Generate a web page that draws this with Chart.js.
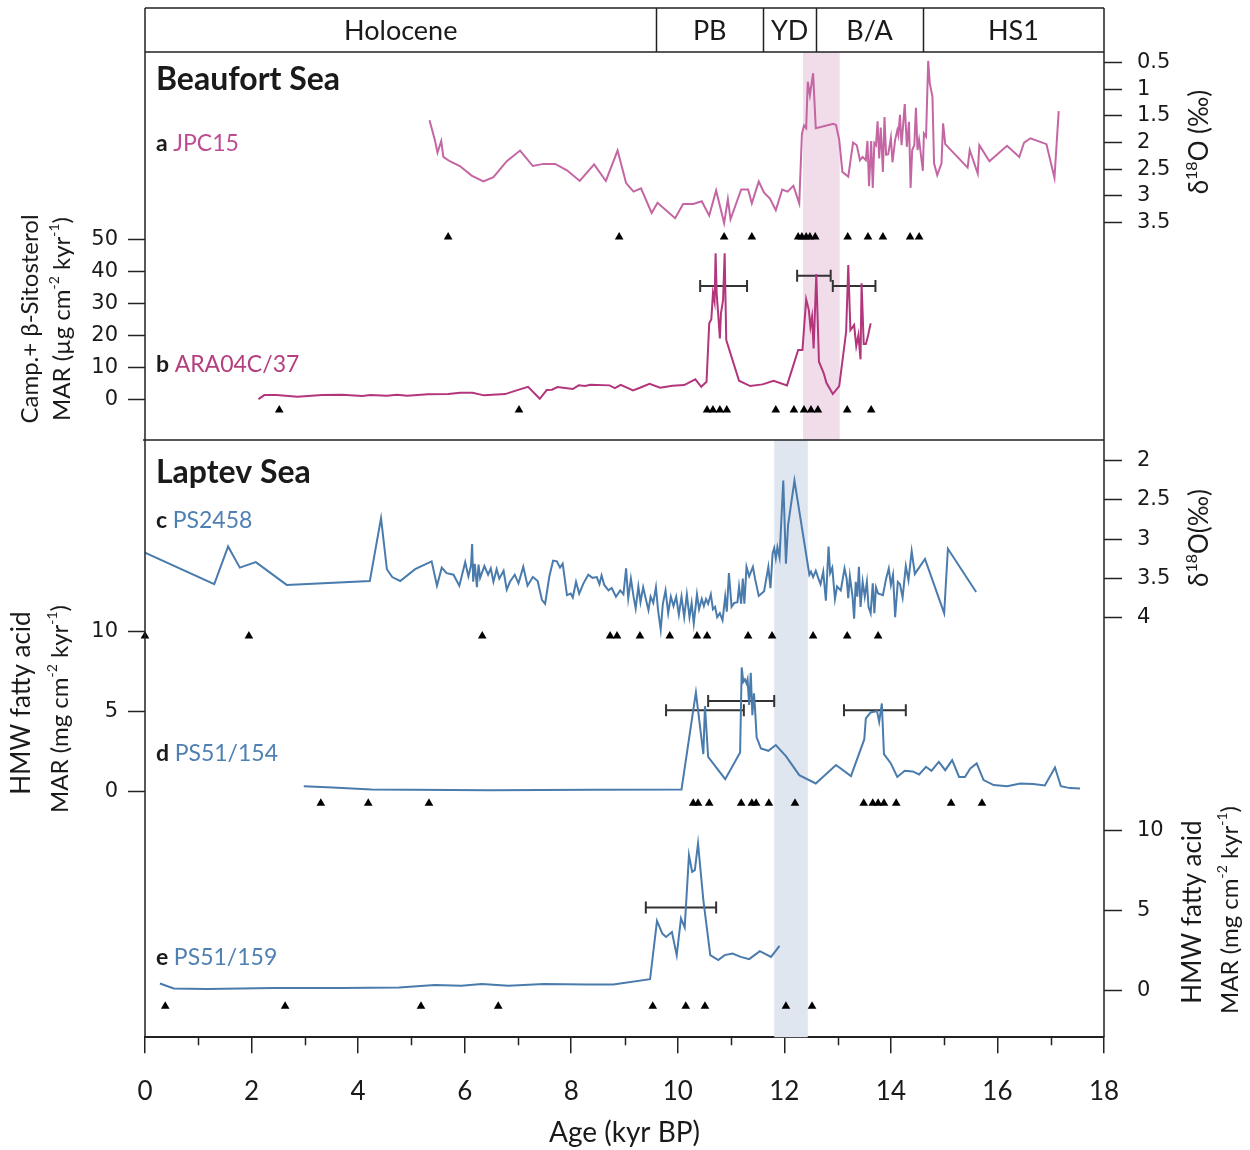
<!DOCTYPE html>
<html>
<head>
<meta charset="utf-8">
<script src="https://cdn.jsdelivr.net/npm/chart.js@4.4.1/dist/chart.umd.min.js"></script>
<style>
  html, body { margin: 0; padding: 0; background: #fff; }
  #wrap { width: 1250px; height: 1150px; }
</style>
</head>
<body>
<div id="wrap"><canvas id="chart" width="1250" height="1150"></canvas></div>
<script>
// ---- periods (header band) ----
const periodNames = ['Holocene', 'PB', 'YD', 'B/A', 'HS1'];
const periodBounds = [0, 9.6, 11.6, 12.6, 14.6, 18];
const beaufortBand = [12.35, 13.04];
const laptevBand = [11.81, 12.44];

// ---- a: JPC15 d18O ----
const jpcAge = [5.34,5.44,5.49,5.56,5.60,5.72,5.91,6.13,6.35,6.54,6.79,7.04,7.28,7.48,7.70,7.92,8.16,8.43,8.65,8.87,9.03,9.17,9.31,9.51,9.62,9.95,10.10,10.29,10.45,10.59,10.72,10.87,10.94,10.99,11.19,11.32,11.39,11.52,11.62,11.73,11.84,11.96,12.06,12.17,12.28,12.33,12.37,12.41,12.44,12.48,12.54,12.59,12.92,12.97,13.03,13.09,13.20,13.29,13.36,13.42,13.47,13.53,13.56,13.59,13.63,13.66,13.69,13.72,13.75,13.78,13.81,13.85,13.88,13.91,13.95,14.00,14.03,14.08,14.12,14.14,14.17,14.20,14.23,14.26,14.30,14.34,14.37,14.40,14.44,14.47,14.50,14.53,14.60,14.62,14.66,14.70,14.73,14.78,14.81,14.87,14.95,14.98,15.02,15.44,15.48,15.63,15.66,15.85,16.18,16.41,16.50,16.62,16.92,17.07,17.15];
const jpcD18O = [1.59,1.96,2.20,1.98,2.28,2.36,2.45,2.63,2.74,2.66,2.36,2.16,2.45,2.41,2.41,2.53,2.73,2.42,2.73,2.16,2.77,2.93,2.87,3.33,3.14,3.43,3.16,3.16,3.11,3.38,2.91,3.52,3.07,3.45,2.89,2.89,3.15,2.74,2.95,3.06,3.28,2.89,2.93,2.82,3.15,1.85,1.69,1.74,0.87,1.12,0.71,1.74,1.66,1.68,1.96,2.56,2.65,2.01,2.06,2.34,2.28,2.34,1.98,2.83,1.98,2.86,2.02,2.06,1.61,2.31,1.73,2.56,1.53,2.24,2.23,1.92,2.38,1.96,1.78,1.87,1.49,2.06,1.68,1.29,2.09,1.62,2.86,2.15,2.06,1.36,2.15,1.96,2.54,1.84,1.90,0.48,0.90,1.15,2.40,2.62,2.40,1.65,2.04,2.48,2.15,2.59,2.06,2.36,2.07,2.28,2.01,1.93,2.04,2.67,1.42];
const jpcDates = [5.69,8.90,10.87,11.39,12.26,12.33,12.41,12.48,12.58,13.19,13.57,13.85,14.36,14.53];
const jpcTicks = [0.5,1,1.5,2,2.5,3,3.5];

// ---- b: ARA04C/37 MAR ----
const araAge = [2.13,2.24,2.47,2.86,3.32,3.70,4.08,4.23,4.54,4.73,4.92,5.31,5.69,5.92,6.15,6.36,6.76,6.99,7.19,7.41,7.54,7.64,7.74,8.03,8.14,8.26,8.36,8.72,8.82,8.93,9.16,9.29,9.47,9.67,9.90,10.12,10.33,10.44,10.54,10.59,10.63,10.66,10.69,10.71,10.73,10.76,10.79,10.81,10.85,10.88,10.91,11.15,11.36,11.59,11.80,12.05,12.26,12.34,12.41,12.46,12.49,12.52,12.55,12.60,12.65,12.74,12.79,12.91,13.03,13.16,13.20,13.24,13.31,13.35,13.39,13.43,13.45,13.49,13.53,13.57,13.62];
const araMar = [0,1.25,1.25,0.72,1.25,1.34,0.94,1.25,1.03,1.34,1.03,1.47,1.56,1.97,1.97,1.16,1.56,2.81,3.84,0.09,2.81,2.91,3.75,3.13,4.28,4.06,4.47,4.28,3.44,4.47,2.72,3.53,4.78,3.53,4.16,4.38,6.16,3.84,5.41,23.66,24.91,33.03,30.41,45.53,33.03,26.25,18.97,26.78,30.94,45.53,18.44,5.72,4.06,4.59,5.72,4.28,15.31,15.31,31.16,27.81,22.59,25.72,15.84,39.06,11.66,8.03,5.09,1.56,4.06,21.03,41.88,21.56,23.13,16.56,20.0,12.41,36.16,17.19,17.19,19.69,23.66];
const araDates = [2.52,7.02,10.55,10.66,10.79,10.92,11.84,12.18,12.37,12.50,12.63,13.18,13.63];
const araBarLo = [10.42, 12.24, 12.91];
const araBarHi = [11.30, 12.87, 13.71];
const araBarLevel = [35.3, 38.5, 35.3];
const araTicks = [0,10,20,30,40,50];

// ---- c: PS2458 d18O ----
const ps2458Age = [0.00,1.30,1.56,1.78,2.08,2.66,4.22,4.43,4.54,4.64,4.79,5.07,5.38,5.48,5.57,5.66,5.79,5.90,6.01,6.07,6.12,6.14,6.16,6.19,6.23,6.26,6.29,6.37,6.44,6.49,6.54,6.60,6.65,6.73,6.79,6.85,6.94,7.01,7.10,7.18,7.28,7.37,7.45,7.51,7.59,7.66,7.73,7.79,7.84,7.92,7.99,8.03,8.09,8.15,8.23,8.32,8.40,8.48,8.53,8.57,8.62,8.70,8.76,8.84,8.92,8.98,9.03,9.07,9.12,9.17,9.21,9.26,9.30,9.35,9.40,9.45,9.49,9.54,9.59,9.63,9.68,9.72,9.77,9.82,9.87,9.92,9.97,10.02,10.07,10.12,10.17,10.22,10.26,10.30,10.36,10.40,10.45,10.49,10.53,10.57,10.62,10.66,10.70,10.74,10.79,10.84,10.89,10.92,10.96,11.01,11.06,11.12,11.15,11.19,11.22,11.25,11.29,11.34,11.41,11.45,11.52,11.62,11.70,11.74,11.78,11.81,11.84,11.87,11.91,11.98,12.03,12.07,12.19,12.47,12.50,12.54,12.59,12.64,12.68,12.73,12.78,12.83,12.86,12.90,12.95,12.99,13.06,13.13,13.17,13.20,13.23,13.28,13.31,13.34,13.37,13.40,13.43,13.47,13.51,13.55,13.58,13.62,13.66,13.69,13.72,13.76,13.85,13.91,13.96,14.00,14.04,14.08,14.13,14.17,14.22,14.28,14.33,14.39,14.45,14.64,15.00,15.07,15.60];
const ps2458D18O = [3.18,3.58,3.10,3.37,3.30,3.59,3.54,2.74,3.39,3.49,3.54,3.39,3.29,3.60,3.37,3.44,3.46,3.60,3.30,3.48,3.34,3.07,3.55,3.32,3.62,3.33,3.50,3.35,3.46,3.38,3.55,3.39,3.51,3.41,3.65,3.55,3.46,3.57,3.36,3.60,3.49,3.54,3.78,3.83,3.48,3.28,3.29,3.37,3.32,3.72,3.70,3.75,3.55,3.70,3.57,3.46,3.50,3.49,3.58,3.47,3.59,3.66,3.63,3.74,3.66,3.71,3.38,3.76,3.51,3.74,3.89,3.61,3.81,3.62,3.77,3.91,3.74,3.82,3.62,3.91,4.16,3.83,3.66,3.95,3.74,3.86,3.74,3.97,3.74,4.00,3.71,4.00,3.82,4.08,3.71,3.90,3.77,3.86,3.77,3.83,3.71,3.90,3.87,4.00,3.95,4.04,3.74,3.93,3.44,3.87,3.82,3.81,3.61,3.83,3.51,3.83,3.36,3.48,3.36,3.51,3.73,3.67,3.36,3.63,3.19,3.12,3.25,3.11,3.24,2.26,3.32,2.83,2.26,3.46,3.42,3.49,3.41,3.51,3.58,3.42,3.79,3.10,3.44,3.37,3.77,3.61,3.66,3.38,3.51,3.76,3.48,3.74,4.02,3.55,3.74,3.36,3.87,3.55,3.74,3.55,3.87,3.95,3.57,3.95,3.62,3.70,3.72,3.51,3.38,3.59,3.46,4.00,3.55,3.58,3.75,3.35,3.53,3.16,3.45,3.26,3.95,3.13,3.68];
const ps2458Dates = [0,1.95,6.33,8.73,8.86,9.29,9.85,10.36,10.55,11.32,11.77,12.54,13.18,13.76];
const ps2458Ticks = [2,2.5,3,3.5,4];

// ---- d: PS51/154 MAR ----
const ps154Age = [2.98,3.52,4.25,6.46,8.42,10.07,10.34,10.48,10.51,10.57,10.89,11.17,11.20,11.23,11.26,11.29,11.31,11.34,11.37,11.40,11.43,11.45,11.48,11.56,11.70,11.84,12.03,12.28,12.59,12.97,13.25,13.50,13.53,13.62,13.74,13.78,13.83,13.87,14.00,14.12,14.26,14.41,14.53,14.66,14.76,14.90,15.02,15.15,15.28,15.39,15.49,15.61,15.74,15.93,16.18,16.43,16.67,16.89,17.08,17.19,17.36,17.55];
const ps154Mar = [0.31,0.23,0.11,0.06,0.08,0.11,6.17,2.31,5.31,2.14,0.75,2.42,7.73,6.83,6.98,6.73,6.98,5.38,7.39,4.75,6.11,5.17,3.36,2.67,2.52,2.88,2.19,1.00,0.48,1.63,0.94,3.23,4.54,4.92,5.00,4.33,5.48,2.31,1.73,0.89,1.27,1.23,1.04,1.52,1.27,1.83,1.31,1.94,0.89,0.89,1.42,1.73,0.69,0.38,0.31,0.48,0.44,0.36,1.48,0.31,0.19,0.17];
const ps154Dates = [3.30,4.19,5.33,10.29,10.38,10.59,11.19,11.39,11.47,11.71,12.20,13.49,13.66,13.76,13.87,14.10,15.13,15.71];
const ps154BarLo = [9.78, 10.57, 13.12];
const ps154BarHi = [11.24, 11.81, 14.28];
const ps154BarLevel = [5.06, 5.64, 5.06];
const ps154Ticks = [0,5,10];

// ---- e: PS51/159 MAR ----
const ps159Age = [0.28,0.54,1.16,2.42,3.68,4.77,5.44,5.94,6.32,6.82,7.49,8.29,8.79,9.48,9.61,9.71,9.78,9.89,9.98,10.06,10.13,10.21,10.27,10.32,10.38,10.48,10.61,10.76,10.88,11.03,11.18,11.34,11.54,11.75,11.91];
const ps159Mar = [0.42,0.11,0.08,0.13,0.13,0.17,0.33,0.27,0.39,0.27,0.39,0.36,0.36,0.69,4.33,3.54,3.33,3.63,2.19,4.48,3.92,8.44,7.39,7.50,9.17,5.63,2.19,1.88,2.19,2.29,2.08,1.94,2.44,2.08,2.77];
const ps159Dates = [0.38,2.63,5.18,6.63,9.53,10.15,10.51,12.03,12.52];
const ps159BarLo = [9.40];
const ps159BarHi = [10.72];
const ps159BarLevel = [5.17];
const ps159Ticks = [0,5,10];

// ---- layout / style ----
const FONT = 'Lato, "Open Sans", sans-serif';
const TICK_FONT = '"DejaVu Sans", Verdana, sans-serif';
const AREA = { left: 145, right: 1104, top: 52, bottom: 1037 };
const HEADER_TOP = 8;
const DIVIDER_Y = 440;
const PINK = '#c466a3', PINK_DARK = '#b3357c', PINK_TEXT = '#bd4d93', PINK_TEXT2 = '#b5407f';
const BLUE = '#4a7bad', BLUE_TEXT = '#4f80b3';
const INK = '#1a1a1a';

// min/max for a scale so that value v0 sits at pixel p0 and v1 at pixel p1
function fitRange(v0, p0, v1, p1) {
  const s = (p1 - p0) / (v1 - v0);
  const vTop = v0 + (AREA.top - p0) / s;
  const vBot = v0 + (AREA.bottom - p0) / s;
  return s < 0 ? { min: vBot, max: vTop, reverse: false } : { min: vTop, max: vBot, reverse: true };
}

const yScales = {
  yA: fitRange(0.5, 62, 3.5, 222),
  yB: fitRange(0, 399, 50, 239),
  yC: fitRange(2, 460, 4, 617),
  yD: fitRange(0, 791, 10, 631),
  yE: fitRange(0, 990, 10, 830)
};

const axisSpecs = [
  { id: 'yA', side: 'right', ticks: jpcTicks },
  { id: 'yB', side: 'left', ticks: araTicks },
  { id: 'yC', side: 'right', ticks: ps2458Ticks },
  { id: 'yD', side: 'left', ticks: ps154Ticks },
  { id: 'yE', side: 'right', ticks: ps159Ticks }
];

const pts = (xs, ys) => xs.map((x, i) => ({ x, y: ys[i] }));

function series(xs, ys, axis, color) {
  return { type: 'line', data: pts(xs, ys), yAxisID: axis, borderColor: color, borderWidth: 2,
    pointRadius: 0, tension: 0, fill: false };
}
function dates(xs, level, axis) {
  return { type: 'scatter', data: xs.map(x => ({ x, y: level })), yAxisID: axis, pointStyle: 'triangle',
    pointRadius: 5, backgroundColor: '#000', borderColor: '#000', borderWidth: 0, clip: false };
}
function bars(lo, hi, level, axis) {
  const d = [];
  lo.forEach((l, i) => { d.push({ x: l, y: level[i] }, { x: hi[i], y: level[i] }, { x: hi[i], y: null }); });
  return { type: 'line', data: d, yAxisID: axis, borderColor: '#333', borderWidth: 2, spanGaps: false,
    pointStyle: 'line', pointRotation: 90, pointRadius: 6, pointBorderWidth: 2, pointBorderColor: '#333' };
}

function richText(ctx, segs, x, y, size, align, rotate) {
  ctx.save();
  ctx.translate(x, y);
  if (rotate) ctx.rotate(-Math.PI / 2);
  const fontOf = s => `${s.bold ? 'bold ' : ''}${s.sup ? Math.round(size * 0.6) : size}px ${FONT}`;
  let w = 0;
  segs.forEach(s => { ctx.font = fontOf(s); w += ctx.measureText(s.t).width; });
  let cx = align === 'center' ? -w / 2 : 0;
  ctx.textBaseline = 'middle';
  ctx.textAlign = 'left';
  segs.forEach(s => {
    ctx.font = fontOf(s);
    ctx.fillStyle = s.color || INK;
    ctx.fillText(s.t, cx, s.sup ? -size * 0.33 : 0);
    cx += ctx.measureText(s.t).width;
  });
  ctx.restore();
}

const decor = {
  id: 'decor',
  beforeDatasetsDraw(chart) {
    const { ctx, scales: { x } } = chart;
    ctx.save();
    ctx.fillStyle = '#f1dce9';
    ctx.fillRect(x.getPixelForValue(beaufortBand[0]), AREA.top, x.getPixelForValue(beaufortBand[1]) - x.getPixelForValue(beaufortBand[0]), DIVIDER_Y - AREA.top);
    ctx.fillStyle = '#dfe6f0';
    ctx.fillRect(x.getPixelForValue(laptevBand[0]), DIVIDER_Y, x.getPixelForValue(laptevBand[1]) - x.getPixelForValue(laptevBand[0]), chart.chartArea.bottom - DIVIDER_Y);
    ctx.restore();
  },
  afterDraw(chart) {
    const { ctx, scales: { x } } = chart;
    const bottom = chart.chartArea.bottom;
    ctx.save();
    ctx.strokeStyle = '#222';
    ctx.lineWidth = 1.5;
    // frame, header box, divider
    ctx.beginPath();
    ctx.moveTo(AREA.left, HEADER_TOP); ctx.lineTo(AREA.right, HEADER_TOP);
    ctx.moveTo(AREA.left, AREA.top); ctx.lineTo(AREA.right, AREA.top);
    ctx.moveTo(AREA.left - 2, DIVIDER_Y); ctx.lineTo(AREA.right, DIVIDER_Y);
    ctx.moveTo(AREA.left, HEADER_TOP); ctx.lineTo(AREA.left, bottom);
    ctx.moveTo(AREA.right, HEADER_TOP); ctx.lineTo(AREA.right, bottom);
    periodBounds.slice(1, -1).forEach(b => {
      const px = Math.round(x.getPixelForValue(b)) + 0.5;
      ctx.moveTo(px, HEADER_TOP); ctx.lineTo(px, AREA.top);
    });
    // minor x ticks
    for (let v = 1; v < 18; v += 2) {
      const px = Math.round(x.getPixelForValue(v)) + 0.5;
      ctx.moveTo(px, bottom); ctx.lineTo(px, bottom + 8);
    }
    ctx.stroke();

    // header labels
    ctx.fillStyle = INK;
    ctx.font = `27px ${FONT}`;
    ctx.textAlign = 'center';
    ctx.textBaseline = 'middle';
    periodNames.forEach((n, i) => {
      const mid = (x.getPixelForValue(periodBounds[i]) + x.getPixelForValue(periodBounds[i + 1])) / 2;
      ctx.fillText(n, mid, 31);
    });

    // y axes ticks and labels
    ctx.font = `21px ${TICK_FONT}`;
    axisSpecs.forEach(spec => {
      const sc = chart.scales[spec.id];
      const left = spec.side === 'left';
      const x0 = left ? AREA.left : AREA.right;
      ctx.textAlign = left ? 'right' : 'left';
      spec.ticks.forEach(t => {
        const py = Math.round(sc.getPixelForValue(t)) + 0.5;
        ctx.beginPath();
        ctx.moveTo(x0, py); ctx.lineTo(left ? x0 - 17 : x0 + 18, py);
        ctx.stroke();
        ctx.fillText(String(t), left ? x0 - 27 : x0 + 33, py);
      });
    });

    // panel titles
    richText(ctx, [{ t: 'Beaufort Sea', bold: true }], 156, 80, 32, 'left');
    richText(ctx, [{ t: 'Laptev Sea', bold: true }], 156, 473, 32, 'left');
    richText(ctx, [{ t: 'a ', bold: true }, { t: 'JPC15', color: PINK_TEXT }], 156, 144, 23, 'left');
    richText(ctx, [{ t: 'b ', bold: true }, { t: 'ARA04C/37', color: PINK_TEXT2 }], 156, 365, 23, 'left');
    richText(ctx, [{ t: 'c ', bold: true }, { t: 'PS2458', color: BLUE_TEXT }], 156, 521, 23, 'left');
    richText(ctx, [{ t: 'd ', bold: true }, { t: 'PS51/154', color: BLUE_TEXT }], 156, 754, 23, 'left');
    richText(ctx, [{ t: 'e ', bold: true }, { t: 'PS51/159', color: BLUE_TEXT }], 156, 958, 23, 'left');

    // axis titles
    const d18 = sp => [{ t: 'δ' }, { t: '18', sup: true }, { t: sp ? 'O (‰)' : 'O(‰)' }];
    const mar = u => [{ t: `MAR (${u} cm` }, { t: '-2', sup: true }, { t: ' kyr' }, { t: '-1', sup: true }, { t: ')' }];
    richText(ctx, d18(true), 1200, 142, 26, 'center', true);
    richText(ctx, d18(false), 1200, 538, 26, 'center', true);
    richText(ctx, [{ t: 'Camp.+ β-Sitosterol' }], 30, 319, 24, 'center', true);
    richText(ctx, mar('µg'), 62, 319, 24, 'center', true);
    richText(ctx, [{ t: 'HMW fatty acid' }], 22, 703, 26, 'center', true);
    richText(ctx, mar('mg'), 60, 709, 24, 'center', true);
    richText(ctx, [{ t: 'HMW fatty acid' }], 1193, 912, 26, 'center', true);
    richText(ctx, mar('mg'), 1230, 910, 24, 'center', true);
    ctx.restore();
  }
};

const yConfig = id => Object.assign({ type: 'linear', display: false, bounds: 'data', grace: 0 }, yScales[id]);

new Chart(document.getElementById('chart'), {
  data: {
    datasets: [
      series(jpcAge, jpcD18O, 'yA', PINK),
      series(araAge, araMar, 'yB', PINK_DARK),
      series(ps2458Age, ps2458D18O, 'yC', BLUE),
      series(ps154Age, ps154Mar, 'yD', BLUE),
      series(ps159Age, ps159Mar, 'yE', BLUE),
      bars(araBarLo, araBarHi, araBarLevel, 'yB'),
      bars(ps154BarLo, ps154BarHi, ps154BarLevel, 'yD'),
      bars(ps159BarLo, ps159BarHi, ps159BarLevel, 'yE'),
      dates(jpcDates, 3.78, 'yA'),
      dates(araDates, -3.4, 'yB'),
      dates(ps2458Dates, 4.24, 'yC'),
      dates(ps154Dates, -0.75, 'yD'),
      dates(ps159Dates, -1.0, 'yE')
    ]
  },
  options: {
    responsive: false,
    animation: false,
    events: [],
    layout: { padding: { left: AREA.left, right: 1250 - AREA.right, top: AREA.top, bottom: 0 } },
    plugins: { legend: { display: false }, tooltip: { enabled: false } },
    scales: {
      x: {
        type: 'linear', min: 0, max: 18, bounds: 'data',
        ticks: { stepSize: 2, color: INK, font: { family: FONT, size: 26 }, padding: 23, maxRotation: 0 },
        grid: { drawOnChartArea: false, tickLength: 16, color: '#222', lineWidth: 1.5 },
        border: { color: '#222', width: 2 },
        title: { display: true, text: 'Age (kyr BP)', color: INK, font: { family: FONT, size: 28 }, padding: { top: -14, bottom: 0 } }
      },
      yA: yConfig('yA'),
      yB: yConfig('yB'),
      yC: yConfig('yC'),
      yD: yConfig('yD'),
      yE: yConfig('yE')
    }
  },
  plugins: [decor]
});
</script>
</body>
</html>
